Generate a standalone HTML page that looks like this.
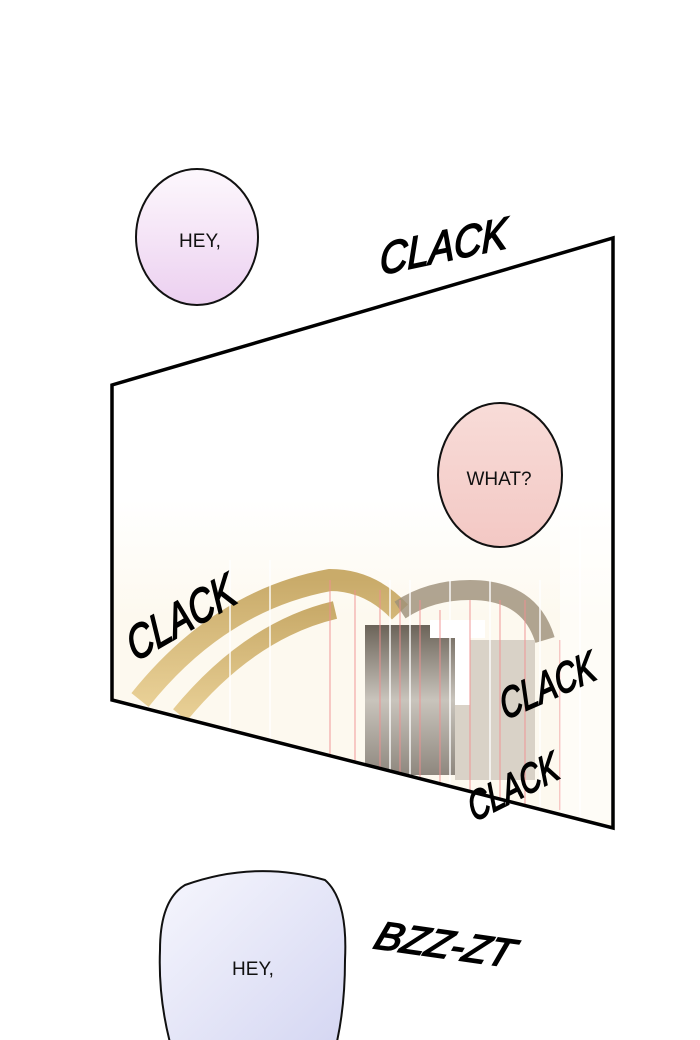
<!DOCTYPE html>
<html><head><meta charset="utf-8"><style>
html,body{margin:0;padding:0;background:#fff;width:700px;height:1040px;overflow:hidden}
svg{display:block}
.sfx{font-family:"Liberation Sans",sans-serif;font-style:italic;font-weight:normal;fill:#000;stroke:#000;stroke-width:1.6}
.bt{font-family:"Liberation Sans",sans-serif;font-size:19px;fill:#111}
</style></head><body>
<svg width="700" height="1040" viewBox="0 0 700 1040" xmlns="http://www.w3.org/2000/svg">
<defs>
<linearGradient id="g1" x1="0" y1="0" x2="0" y2="1"><stop offset="0" stop-color="#fdf8fd"/><stop offset="1" stop-color="#ecd0f0"/></linearGradient>
<linearGradient id="g2" x1="0" y1="0" x2="0" y2="1"><stop offset="0" stop-color="#f8dcd8"/><stop offset="1" stop-color="#f3c8c4"/></linearGradient>
<linearGradient id="g3" x1="0" y1="0" x2="1" y2="1"><stop offset="0" stop-color="#f6f6fd"/><stop offset="1" stop-color="#d4d6f2"/></linearGradient>
<linearGradient id="bg" x1="0" y1="0" x2="0" y2="1"><stop offset="0" stop-color="#fdf9ef" stop-opacity="0"/><stop offset="0.35" stop-color="#fdf9ef" stop-opacity="1"/></linearGradient>
<linearGradient id="gold" x1="0" y1="0" x2="0" y2="1"><stop offset="0" stop-color="#c9ab6a"/><stop offset="1" stop-color="#e8cf95"/></linearGradient>
<linearGradient id="metal" x1="0" y1="0" x2="0" y2="1"><stop offset="0" stop-color="#6b6358"/><stop offset="0.5" stop-color="#c9c4bc"/><stop offset="1" stop-color="#8e877e"/></linearGradient>
<clipPath id="pc"><polygon points="112,385 613,238 613,828 112,700"/></clipPath>
</defs>
<rect width="700" height="1040" fill="#fff"/>
<ellipse cx="197" cy="237" rx="61" ry="68" fill="url(#g1)" stroke="#111" stroke-width="2"/>
<text class="bt" x="200" y="247" text-anchor="middle">HEY,</text>
<polygon points="112,385 613,238 613,828 112,700" fill="#fff"/>
<g clip-path="url(#pc)">
<rect x="112" y="500" width="501" height="330" fill="url(#bg)"/>
<path d="M140,700 Q220,600 330,580 Q370,580 400,612" fill="none" stroke="url(#gold)" stroke-width="22"/>
<path d="M180,715 Q250,630 335,610" fill="none" stroke="url(#gold)" stroke-width="18"/>
<path d="M400,610 Q430,590 470,590 Q530,590 545,640" fill="none" stroke="#9c8f78" stroke-width="20" opacity="0.8"/>
<rect x="365" y="625" width="90" height="150" fill="url(#metal)"/>
<rect x="455" y="640" width="80" height="140" fill="#cfc8bd" opacity="0.8"/>
<rect x="430" y="620" width="55" height="18" fill="#fff"/>
<rect x="455" y="630" width="15" height="75" fill="#fff"/>
<g stroke="#f09090" stroke-width="1.3" opacity="0.7">
<line x1="330" y1="580" x2="330" y2="760"/><line x1="355" y1="590" x2="355" y2="770"/><line x1="380" y1="590" x2="380" y2="780"/><line x1="400" y1="600" x2="400" y2="780"/><line x1="420" y1="600" x2="420" y2="790"/><line x1="440" y1="610" x2="440" y2="790"/><line x1="470" y1="600" x2="470" y2="800"/><line x1="500" y1="600" x2="500" y2="800"/><line x1="525" y1="600" x2="525" y2="810"/><line x1="560" y1="640" x2="560" y2="810"/></g>
<g stroke="#fff" stroke-width="2" opacity="0.7">
<line x1="230" y1="560" x2="230" y2="740"/><line x1="270" y1="560" x2="270" y2="740"/><line x1="390" y1="580" x2="390" y2="780"/><line x1="410" y1="580" x2="410" y2="780"/><line x1="450" y1="580" x2="450" y2="790"/><line x1="490" y1="580" x2="490" y2="800"/><line x1="540" y1="580" x2="540" y2="810"/><line x1="580" y1="520" x2="580" y2="820"/></g>
<rect x="560" y="520" width="60" height="300" fill="#fff" opacity="0.5"/>
</g>
<polygon points="112,385 613,238 613,828 112,700" fill="none" stroke="#000" stroke-width="3.5"/>
<ellipse cx="500" cy="475" rx="62" ry="72" fill="url(#g2)" stroke="#111" stroke-width="2"/>
<text class="bt" x="499" y="485" text-anchor="middle">WHAT?</text>
<text class="sfx" font-size="44" transform="translate(380,275) rotate(-12) skewX(-12)" textLength="130" lengthAdjust="spacingAndGlyphs">CLACK</text>
<text class="sfx" font-size="46" transform="translate(135,662) rotate(-30) skewX(-8)" textLength="120" lengthAdjust="spacingAndGlyphs">CLACK</text>
<text class="sfx" font-size="42" transform="translate(505,720) rotate(-24) skewX(-8)" textLength="102" lengthAdjust="spacingAndGlyphs">CLACK</text>
<text class="sfx" font-size="40" transform="translate(474,822) rotate(-27) skewX(-8)" textLength="98" lengthAdjust="spacingAndGlyphs">CLACK</text>
<text class="sfx" font-size="40" transform="translate(372,948) rotate(8) skewX(-12)" textLength="138" lengthAdjust="spacingAndGlyphs">BZZ-ZT</text>
<path d="M185,885 Q255,860 325,880 Q348,900 345,960 Q345,1010 335,1050 L172,1050 Q158,1000 160,950 Q160,900 185,885 Z" fill="url(#g3)" stroke="#111" stroke-width="2"/>
<text class="bt" x="253" y="975" text-anchor="middle">HEY,</text>
</svg>
</body></html>
